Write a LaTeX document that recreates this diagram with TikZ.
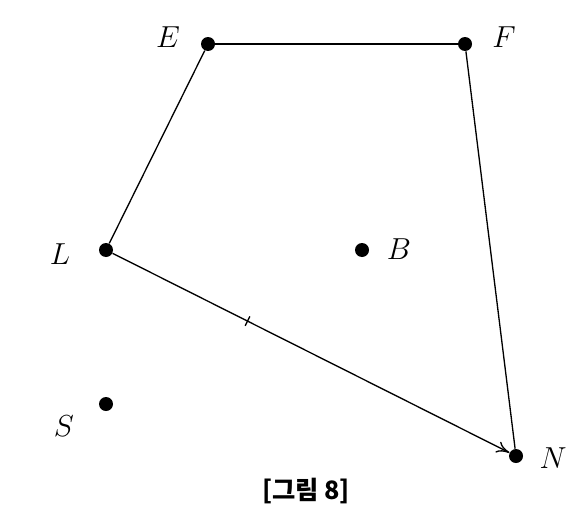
\documentclass[tikz,border=0pt]{standalone}
\usepackage{fontspec}
\newfontfamily\krfont{Noto Sans CJK KR}
\usepackage{tikz}
\usetikzlibrary{arrows.meta,calc}

\begin{document}
\begin{tikzpicture}[
  x=0.02cm, y=0.02cm,
  pt/.style={circle, fill=black, inner sep=0pt, minimum size=0.28cm},
  lbl/.style={font=\LARGE},
  edge/.style={line width=0.75pt},
  flow/.style={-{To[length=2.6mm,width=2.4mm]}, line width=0.75pt}
]
\useasboundingbox (0,0) rectangle (577,508);

\node[pt] (E) at (208,464) {};
\node[pt] (F) at (465,464) {};
\node[pt] (L) at (106,258) {};
\node[pt] (B) at (362,258) {};
\node[pt] (S) at (106,104) {};
\node[pt] (N) at (516,52) {};

\node[lbl] (lE) at (168,471) {$E$};
\node[lbl] (lF) at (504,471) {$F$};
\node[lbl] (lL) at (60,254) {$L$};
\node[lbl] (lB) at (399,259) {$B$};
\node[lbl] (lS) at (64,82) {$S$};
\node[lbl] (lN) at (553,50) {$N$};

\draw[edge] (E) -- (F);
\draw[edge] (E) -- (L);
\draw[edge] (F) -- (N);
\draw[flow] (L) -- (N) coordinate[pos=0.34] (mk);
\draw[edge] ($(mk)!3pt!90:(N)$) -- ($(mk)!3pt!-90:(N)$);

\node[font=\krfont\bfseries\Large] (cap) at (306,17) {[그림 8]};
\end{tikzpicture}
\end{document}
